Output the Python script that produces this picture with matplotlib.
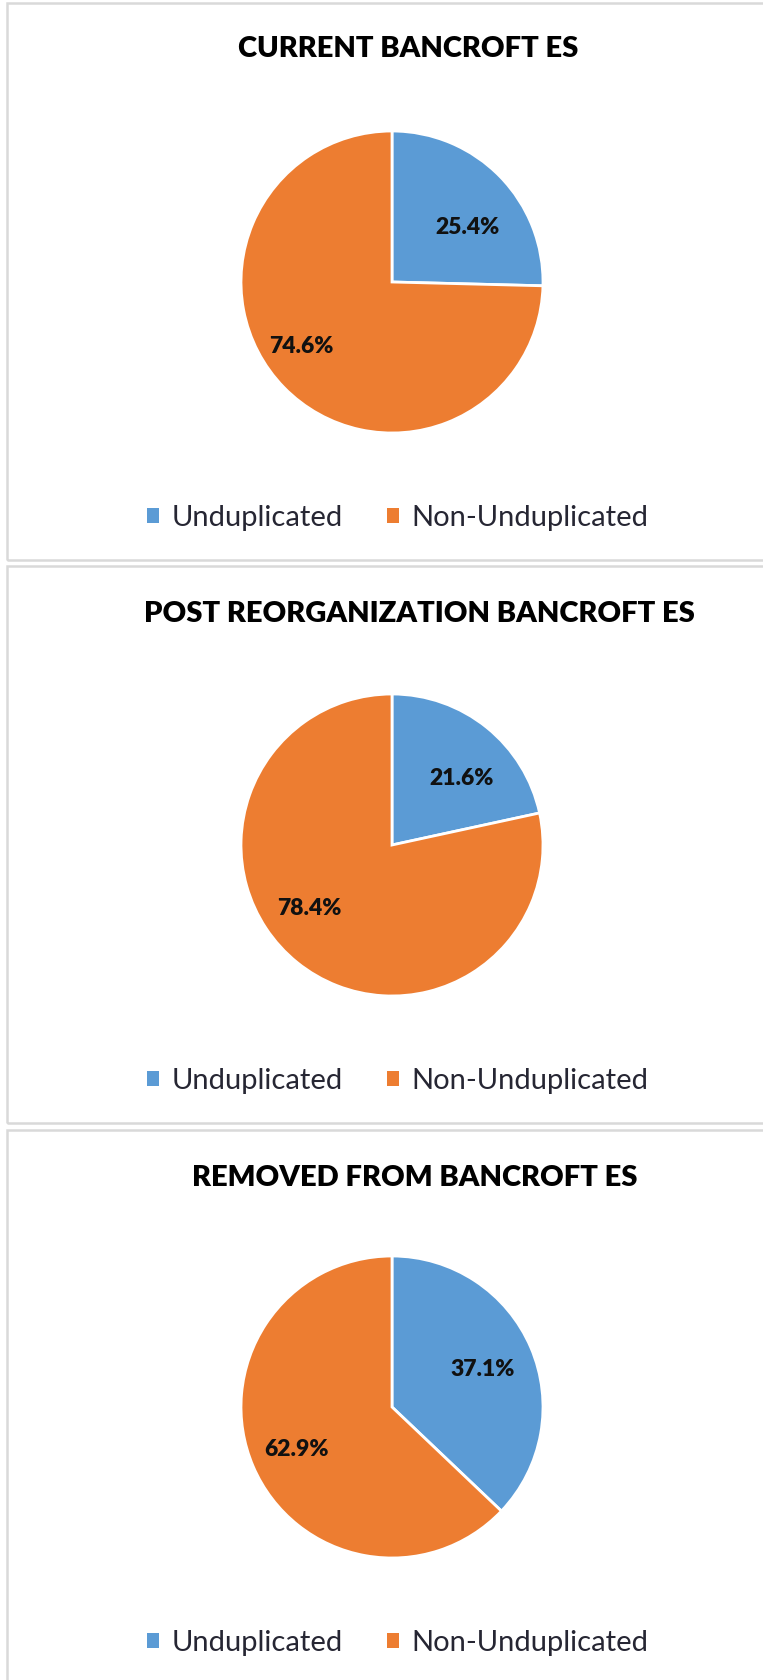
import matplotlib
matplotlib.use("Agg")
import matplotlib.pyplot as plt
from matplotlib.patches import Patch, Rectangle

# data
titles = ["CURRENT BANCROFT ES", "POST REORGANIZATION BANCROFT ES", "REMOVED FROM BANCROFT ES"]
categories = ["Unduplicated", "Non-Unduplicated"]
current = [25.4, 74.6]
post_reorg = [21.6, 78.4]
removed = [37.1, 62.9]
colors = ["#5B9BD5", "#ED7D31"]

W, H = 763, 1680
fig = plt.figure(figsize=(W / 100, H / 100), dpi=100)
fig.patch.set_facecolor("white")


def fx(x):
    return x / W


def fy(y):
    return 1 - y / H


# panel layout in pixels (top, bottom, pie center y, title y, legend y, title x)
panels = [
    dict(top=3, bottom=560, cy=282, ty=49, ly=518, tx=408,
         lab=[(0.50, 0.36), (-0.60, -0.43)], vals=current),
    dict(top=566, bottom=1123, cy=845, ty=614, ly=1081, tx=419,
         lab=[(0.46, 0.44), (-0.55, -0.42)], vals=post_reorg),
    dict(top=1130, bottom=1700, cy=1407, ty=1178, ly=1643, tx=415,
         lab=[(0.60, 0.25), (-0.63, -0.28)], vals=removed),
]
cx, r = 392, 151

for p, title in zip(panels, titles):
    # chart border
    fig.patches.append(Rectangle((fx(7), fy(p["bottom"])), fx(800 - 7), (p["bottom"] - p["top"]) / H,
                                 transform=fig.transFigure, fill=False,
                                 edgecolor="#d9d9d9", linewidth=1.8))

    ax = fig.add_axes([fx(cx - r), fy(p["cy"] + r), 2 * r / W, 2 * r / H])
    wedges, _, autotexts = ax.pie(p["vals"], colors=colors, startangle=90, counterclock=False,
                                  autopct="%1.1f%%", radius=1,
                                  wedgeprops=dict(edgecolor="white", linewidth=2),
                                  textprops=dict(fontsize=16.5, fontweight="heavy",
                                                 color="#111111", family="Lato"))
    for t, pos in zip(autotexts, p["lab"]):
        t.set_position(pos)
    ax.set_xlim(-1, 1)
    ax.set_ylim(-1, 1)
    ax.set_aspect("equal")
    ax.axis("off")

    fig.text(fx(p["tx"]), fy(p["ty"]), title, ha="center", va="center",
             fontsize=21, fontweight="heavy", family="Lato", color="#000000")

    handles = [Patch(facecolor=c, edgecolor="none") for c in colors]
    fig.legend(handles, categories, loc="center", bbox_to_anchor=(fx(398), fy(p["ly"])),
               ncol=2, frameon=False, handlelength=0.4, handleheight=0.4,
               handletextpad=0.45, columnspacing=1.5,
               prop=dict(family="Lato", size=21), labelcolor="#262633")

fig.savefig("out.png", dpi=100)
